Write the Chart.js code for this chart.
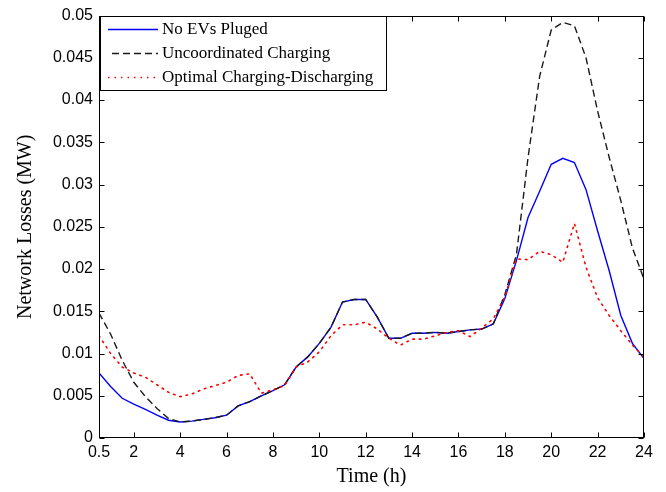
<!DOCTYPE html>
<html>
<head>
<meta charset="utf-8">
<script src="https://cdn.jsdelivr.net/npm/chart.js@4/dist/chart.umd.min.js"></script>
<style>
html,body{margin:0;padding:0;background:#fff;}
#wrap{width:666px;height:492px;position:relative;}
</style>
</head>
<body>
<div id="wrap"><canvas id="c" width="666" height="492"></canvas></div>
<script>
// ---- data ----
const hours = [0.5,1,1.5,2,2.5,3,3.5,4,4.5,5,5.5,6,6.5,7,7.5,8,8.5,9,9.5,10,10.5,11,11.5,12,
               12.5,13,13.5,14,14.5,15,15.5,16,16.5,17,17.5,18,18.5,19,19.5,20,20.5,21,21.5,22,22.5,23,23.5,24];
const noEVs = [0.0077,0.0061,0.0047,0.0040,0.0034,0.0027,0.0021,0.0019,0.0020,0.0022,0.0024,0.0027,0.0038,0.0043,0.0050,0.0056,0.0063,0.0084,0.0096,0.0112,0.0131,0.0161,0.0164,0.0164,
               0.0143,0.0118,0.0118,0.0124,0.0124,0.0125,0.0124,0.0126,0.0128,0.0129,0.0135,0.0165,0.0210,0.0261,0.0292,0.0324,0.0331,0.0326,0.0294,0.0245,0.0198,0.0145,0.0112,0.0094];
const uncoordinated = [0.0148,0.0123,0.0092,0.0066,0.0049,0.0035,0.0023,0.0019,0.0020,0.0022,0.0024,0.0027,0.0038,0.0043,0.0050,0.0056,0.0063,0.0084,0.0096,0.0112,0.0131,0.0161,0.0164,0.0164,
               0.0143,0.0118,0.0118,0.0124,0.0124,0.0125,0.0124,0.0126,0.0128,0.0129,0.0135,0.0170,0.0217,0.0332,0.0428,0.0483,0.0492,0.0488,0.0450,0.0387,0.0332,0.0281,0.0225,0.0188];
const optimal = [0.0121,0.0100,0.0084,0.0077,0.0072,0.0063,0.0054,0.0049,0.0052,0.0058,0.0062,0.0066,0.0074,0.0076,0.0053,0.0057,0.0062,0.0084,0.0090,0.0102,0.0121,0.0134,0.0134,0.0137,
               0.0129,0.0118,0.0110,0.0117,0.0117,0.0121,0.0125,0.0127,0.0120,0.0130,0.0141,0.0167,0.0212,0.0211,0.0221,0.0217,0.0208,0.0254,0.0202,0.0166,0.0145,0.0127,0.0110,0.0096];
const xTicks = [0.5,2,4,6,8,10,12,14,16,18,20,22,24];
const xTickLabels = ['0.5','2','4','6','8','10','12','14','16','18','20','22','24'];
const yTicks = [0,0.005,0.01,0.015,0.02,0.025,0.03,0.035,0.04,0.045,0.05];
const yTickLabels = ['0','0.005','0.01','0.015','0.02','0.025','0.03','0.035','0.04','0.045','0.05'];
const seriesNames = ['No EVs Pluged','Uncoordinated Charging','Optimal Charging-Discharging'];

const pts = arr => hours.map((h,i)=>({x:h,y:arr[i]}));

const styles = [
  {color:'#0000ff', width:1.4, dash:[]},
  {color:'#1a1a1a', width:1.4, dash:[7,4]},
  {color:'#ff0000', width:1.6, dash:[1.5,5]}
];

const framePlugin = {
  id:'frame',
  afterDatasetsDraw(chart){
    const {ctx, chartArea:{left,right,top,bottom}, scales:{x,y}} = chart;
    const L = Math.round(left)+0.5, R = Math.round(right)-0.5, T = Math.round(top)+0.5, B = Math.round(bottom)-0.5;
    ctx.save();
    ctx.strokeStyle='#000'; ctx.lineWidth=1; ctx.setLineDash([]);
    ctx.strokeRect(L, T, R-L, B-T);
    ctx.beginPath();
    xTicks.forEach(v=>{
      const px = Math.round(x.getPixelForValue(v))+0.5;
      ctx.moveTo(px,B); ctx.lineTo(px,B-5);
      ctx.moveTo(px,T); ctx.lineTo(px,T+5);
    });
    yTicks.forEach(v=>{
      const py = Math.round(y.getPixelForValue(v))+0.5;
      ctx.moveTo(L,py); ctx.lineTo(L+5,py);
      ctx.moveTo(R,py); ctx.lineTo(R-5,py);
    });
    ctx.stroke();
    // legend
    const lx0 = L+1, ly0 = T, lx1 = 386.5, ly1 = 90.5;
    ctx.fillStyle='#fff';
    ctx.fillRect(lx0, ly0, lx1-lx0, ly1-ly0);
    ctx.strokeStyle='#000';
    ctx.strokeRect(lx0, ly0, lx1-lx0, ly1-ly0);
    ctx.font = '17px "Liberation Serif", "Times New Roman", serif';
    ctx.textBaseline='middle'; ctx.textAlign='left';
    const rowY = [29,53,77];
    seriesNames.forEach((name,i)=>{
      const s = styles[i];
      ctx.beginPath();
      ctx.strokeStyle = s.color; ctx.lineWidth = s.width; ctx.setLineDash(s.dash);
      ctx.moveTo(i===1?112:108, rowY[i]+0.5); ctx.lineTo(158, rowY[i]+0.5);
      ctx.stroke();
      ctx.setLineDash([]);
      ctx.fillStyle='#000';
      ctx.fillText(name, 162, rowY[i]+1);
    });
    ctx.restore();
  }
};

const chart = new Chart(document.getElementById('c'), {
  type:'line',
  data:{
    datasets:[
      {label:seriesNames[0], data:pts(noEVs), borderColor:styles[0].color, borderWidth:styles[0].width, borderDash:styles[0].dash, order:2},
      {label:seriesNames[1], data:pts(uncoordinated), borderColor:styles[1].color, borderWidth:styles[1].width, borderDash:styles[1].dash, order:1},
      {label:seriesNames[2], data:pts(optimal), borderColor:styles[2].color, borderWidth:styles[2].width, borderDash:styles[2].dash, borderCapStyle:'round', order:0}
    ]
  },
  options:{
    responsive:false,
    devicePixelRatio:1,
    animation:false,
    elements:{point:{radius:0}, line:{tension:0, fill:false}},
    layout:{padding:{left:0,right:22,top:14,bottom:0}},
    plugins:{legend:{display:false}, tooltip:{enabled:false}},
    scales:{
      x:{
        type:'linear', min:0.5, max:24,
        afterBuildTicks: s => { s.ticks = xTicks.map(v=>({value:v})); },
        afterFit: s => { s.height = 54; },
        grid:{display:false, drawTicks:false}, border:{display:false},
        ticks:{autoSkip:false, maxRotation:0, padding:5, color:'#000',
          font:{family:'"Liberation Sans", Arial, sans-serif', size:16},
          callback:(v)=>{ const i = xTicks.indexOf(v); return i>=0 ? xTickLabels[i] : ''; }},
        title:{display:true, text:'Time (h)', color:'#000', padding:{top:0,bottom:3},
          font:{family:'"Liberation Serif", "Times New Roman", serif', size:20}}
      },
      y:{
        type:'linear', min:0, max:0.05,
        afterBuildTicks: s => { s.ticks = yTicks.map(v=>({value:v})); },
        afterFit: s => { s.width = 99; },
        grid:{display:false, drawTicks:false}, border:{display:false},
        ticks:{padding:6, color:'#000',
          font:{family:'"Liberation Sans", Arial, sans-serif', size:16},
          callback:(v)=>{ const i = yTicks.findIndex(t=>Math.abs(t-v)<1e-9); return i>=0 ? yTickLabels[i] : ''; }},
        title:{display:true, text:'Network Losses (MW)', color:'#000', padding:{top:14,bottom:0},
          font:{family:'"Liberation Serif", "Times New Roman", serif', size:20}}
      }
    }
  },
  plugins:[framePlugin]
});
</script>
</body>
</html>
